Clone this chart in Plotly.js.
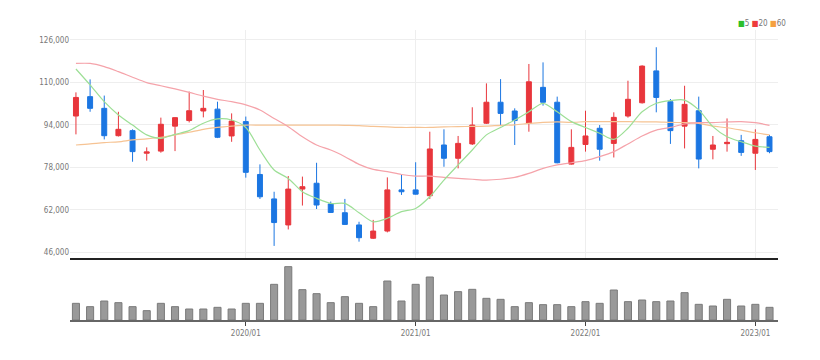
<!DOCTYPE html>
<html><head><meta charset="utf-8">
<script src="https://cdn.plot.ly/plotly-3.0.1.min.js"></script>
<style>html,body{margin:0;padding:0;background:#fff}#c{width:820px;height:360px}</style>
</head><body><div id="c"></div>
<script>
const months = ["2019/01","2019/02","2019/03","2019/04","2019/05","2019/06","2019/07","2019/08","2019/09","2019/10","2019/11","2019/12",
"2020/01","2020/02","2020/03","2020/04","2020/05","2020/06","2020/07","2020/08","2020/09","2020/10","2020/11","2020/12",
"2021/01","2021/02","2021/03","2021/04","2021/05","2021/06","2021/07","2021/08","2021/09","2021/10","2021/11","2021/12",
"2022/01","2022/02","2022/03","2022/04","2022/05","2022/06","2022/07","2022/08","2022/09","2022/10","2022/11","2022/12",
"2023/01","2023/02"];
const openP  = [97300,104600,100200,89900,91800,83300,84100,93500,95600,99200,99900,89800,
95200,75300,66100,56300,69800,72000,64200,60900,56300,51300,54000,69500,
69500,67300,86400,81400,86800,94600,102500,99200,94600,108100,102500,79200,
86600,92700,87000,97300,102300,114300,102700,93500,99300,84800,86900,88000,
83300,89500];
const highP  = [106200,111100,105000,98900,92300,85500,96700,96800,106500,107100,102700,98300,
97100,79100,68800,74700,74500,79700,65100,66100,57500,58200,74200,75100,
79900,91400,92300,89800,100600,109600,111200,100200,116900,117500,104600,92300,
99300,93900,98700,110600,116400,123200,103700,108700,104600,89800,96400,90200,
92300,90200];
const lowP   = [90400,98900,88500,89600,80100,80500,83500,84100,94900,96800,89000,87600,
74100,66100,48400,54600,63600,62300,60900,56300,50000,51000,53500,67600,
67700,66100,78200,77600,86400,94300,93500,86400,91400,101200,79500,79000,
83900,80500,81700,96700,102000,98700,86800,85100,77600,81000,83900,82300,
77000,83300];
const closeP = [104300,100200,89900,92300,83900,83800,94200,96700,99300,100200,89300,95400,
76100,66900,57200,69800,70700,63800,61000,56500,51500,54000,69500,68800,
67900,84900,81400,87000,93900,102500,98300,95600,110200,102500,79700,85500,
89800,84800,96800,103600,116100,104300,91800,101700,81100,86400,87400,83600,
88500,83900];
const ma5  = [115000,109000,102700,97700,93900,90200,88900,90400,91800,94600,96200,95800,
93000,84500,77000,73800,68800,66300,64400,64400,60900,57500,58800,61300,
62500,66900,73200,78900,84500,90200,93000,95800,98900,102100,98900,95200,
93000,90800,88500,92700,98900,102100,103100,103300,99600,93300,89500,87600,
86000,85500];
const ma20 = [117100,117100,115900,114000,111900,109900,108700,107500,106200,104800,103600,102700,
101500,99600,96400,93300,89500,86400,84500,82000,79100,77200,76400,75300,
74700,74700,74200,73800,73500,73200,73500,74200,75700,77600,78900,79700,
80500,82000,83900,86800,89800,92000,93000,94300,94800,94800,95100,95200,
94800,93800];
const ma60 = [86400,86800,87300,87600,88300,88700,89300,90200,91200,92300,93000,93500,
93900,93900,93900,93900,93900,93900,93900,93800,93700,93400,93200,93000,
93000,93000,93200,93300,93400,93500,93800,94000,94500,94900,95100,94900,
95200,95200,95200,95200,95100,95100,94900,94800,94500,93500,92900,92000,
91000,90200];
const volume = [50,40,57,52,40,28,50,40,33,33,38,33,
50,50,107,160,91,79,52,70,50,40,117,57,
107,129,75,85,92,65,62,40,52,46,46,40,
55,50,90,55,60,55,57,82,47,42,62,42,
47,38];
const priceTicks = [46000,62000,78000,94000,110000,126000];
const timeTicks = ["2020/01","2021/01","2022/01","2023/01"];
const maNames = ["5","20","60"];

const FONT = "Liberation Sans Narrow, DejaVu Sans Condensed, Arial Narrow, sans-serif";
const UP = "#e8363c", DOWN = "#1b76e2";

const traces = [
  {x: months, y: ma60, type: "scatter", mode: "lines", line: {color: "#f6c393", width: 1.2, shape: "spline", smoothing: 0.8}, xaxis: "x", yaxis: "y", hoverinfo: "skip"},
  {x: months, y: ma20, type: "scatter", mode: "lines", line: {color: "#f5a3aa", width: 1.2, shape: "spline", smoothing: 0.8}, xaxis: "x", yaxis: "y", hoverinfo: "skip"},
  {x: months, y: ma5, type: "scatter", mode: "lines", line: {color: "#9ddf96", width: 1.2, shape: "spline", smoothing: 0.8}, xaxis: "x", yaxis: "y", hoverinfo: "skip"},
  {x: months, open: openP, high: highP, low: lowP, close: closeP, type: "candlestick",
   increasing: {line: {color: UP, width: 1}, fillcolor: UP},
   decreasing: {line: {color: DOWN, width: 1}, fillcolor: DOWN},
   whiskerwidth: 0, xaxis: "x", yaxis: "y", hoverinfo: "skip"},
  {x: months, y: volume, type: "bar", marker: {color: "#999999", line: {color: "#7a7a7a", width: 1}}, width: 0.5, xaxis: "x2", yaxis: "y2", hoverinfo: "skip"}
];

const layout = {
  width: 820, height: 360,
  margin: {l: 70, r: 42, t: 30, b: 40},
  paper_bgcolor: "#fff", plot_bgcolor: "#fff",
  showlegend: false, hovermode: false, bargap: 0.5, boxgap: 0.5,
  font: {family: FONT, size: 8, color: "#777"},
  xaxis: {type: "category", range: [-0.42, 49.6], anchor: "y", showgrid: true, gridcolor: "#eeeeee", gridwidth: 1,
          tickvals: timeTicks, showticklabels: false, ticks: "", showline: true, linecolor: "#222", linewidth: 2,
          rangeslider: {visible: false}, fixedrange: true, zeroline: false},
  xaxis2: {type: "category", range: [-0.42, 49.6], anchor: "y2", matches: "x", showgrid: false,
           tickvals: timeTicks, ticktext: timeTicks, ticks: "outside", ticklen: 4, tickcolor: "#444", tickwidth: 1,
           showline: true, linecolor: "#666", linewidth: 2, tickfont: {family: FONT, size: 8, color: "#777"}, zeroline: false},
  yaxis: {domain: [0.2138, 1], range: [43854, 129690], tickvals: priceTicks, tickformat: ",d",
          showgrid: true, gridcolor: "#eeeeee", gridwidth: 1, zeroline: false, ticks: "", ticklen: 0,
          tickfont: {family: FONT, size: 8, color: "#777"}, fixedrange: true},
  yaxis2: {domain: [0, 0.2], range: [0, 174], showgrid: false, showticklabels: false, zeroline: false, ticks: ""},
  annotations: [{
    xref: "paper", yref: "paper", x: 0.94, y: 1.0, xanchor: "left", yanchor: "bottom", showarrow: false,
    text: '<span style="color:#2cbf2c">■</span>' + maNames[0] + ' <span style="color:#ee3b3b">■</span>' + maNames[1] + ' <span style="color:#f5a040">■</span>' + maNames[2],
    font: {family: FONT, size: 8, color: "#777"}
  }]
};

Plotly.newPlot("c", traces, layout, {staticPlot: true, displayModeBar: false});
</script></body></html>
